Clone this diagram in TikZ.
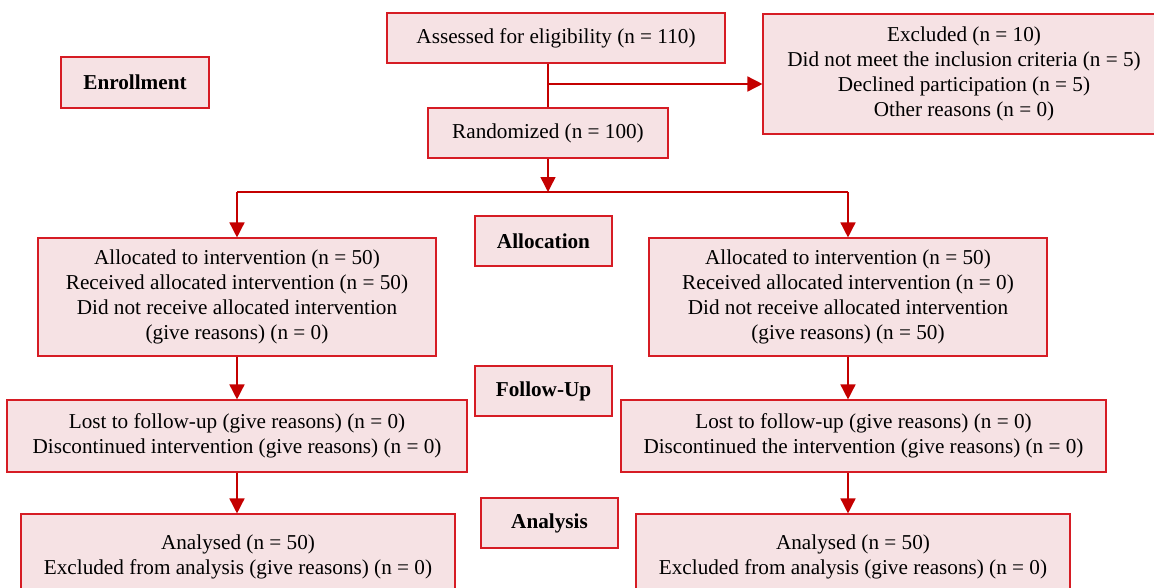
\documentclass[tikz,border=0pt]{standalone}
\usepackage{fontspec}
\setmainfont{Liberation Serif}
\usepackage{tikz}
\usetikzlibrary{arrows.meta}
\definecolor{boxfill}{RGB}{246,226,228}
\definecolor{boxline}{RGB}{214,28,36}
\definecolor{arrred}{RGB}{196,0,0}

\begin{document}
\begin{tikzpicture}[x=1pt, y=-1pt,
	every node/.style={font=\fontsize{21.2}{25}\selectfont},
	box/.style={draw=boxline, fill=boxfill, line width=1.1pt, align=center, inner sep=0pt},
	stage/.style={box, font=\fontsize{21.2}{25}\selectfont\bfseries, minimum width=137, minimum height=50},
	line/.style={draw=arrred, line width=1.5pt},
	arr/.style={line, -{Triangle[length=15,width=15]}}]
\useasboundingbox (0,0) rectangle (1154,587);

% stage labels
\node[stage, minimum width=148, minimum height=51] (enrol) at (135,82.5) {Enrollment};
\node[stage] (alloc) at (543.5,241) {Allocation};
\node[stage] (follow) at (543.5,391) {Follow-Up};
\node[stage] (analysis) at (549.5,523) {Analysis};

% top part
\node[box, minimum width=338, minimum height=50] (assessed) at (556,38) {Assessed for eligibility (n = 110)};
\node[box, minimum width=240, minimum height=50] (random) at (548,133) {Randomized (n = 100)};
\node[box, minimum width=402, minimum height=120] (excluded) at (964,74) {Excluded (n = 10)\\Did not meet the inclusion criteria (n = 5)\\Declined participation (n = 5)\\Other reasons (n = 0)};

% left arm
\node[box, minimum width=398, minimum height=118] (allocL) at (237,297) {Allocated to intervention (n = 50)\\Received allocated intervention (n = 50)\\Did not receive allocated intervention\\(give reasons) (n = 0)};
\node[box, minimum width=460, minimum height=72] (followL) at (237,436) {Lost to follow-up (give reasons) (n = 0)\\Discontinued intervention (give reasons) (n = 0)};
\node[box, minimum width=434, minimum height=86] (analysisL) at (238,557) {Analysed (n = 50)\\Excluded from analysis (give reasons) (n = 0)};

% right arm
\node[box, minimum width=398, minimum height=118] (allocR) at (848,297) {Allocated to intervention (n = 50)\\Received allocated intervention (n = 0)\\Did not receive allocated intervention\\(give reasons) (n = 50)};
\node[box, minimum width=485, minimum height=72] (followR) at (863.5,436) {Lost to follow-up (give reasons) (n = 0)\\Discontinued the intervention (give reasons) (n = 0)};
\node[box, minimum width=434, minimum height=86] (analysisR) at (853,557) {Analysed (n = 50)\\Excluded from analysis (give reasons) (n = 0)};

% connectors
\coordinate (branch) at (random.north |- 0,84);
\coordinate (split) at (random.south |- 0,192);
\coordinate (splitL) at (allocL.north |- split);
\coordinate (splitR) at (allocR.north |- split);
\draw[line] (random.north) -- (random.north |- assessed.south);
\draw[arr] (branch) -- (branch -| excluded.west);
\draw[arr] (random.south) -- (split);
\draw[line] (splitL) -- (splitR);
\draw[arr] (splitL) -- (allocL.north);
\draw[arr] (splitR) -- (allocR.north);
\draw[arr] (allocL.south) -- (allocL.south |- followL.north);
\draw[arr] (followL.south -| allocL.south) -- (allocL.south |- analysisL.north);
\draw[arr] (allocR.south) -- (allocR.south |- followR.north);
\draw[arr] (followR.south -| allocR.south) -- (allocR.south |- analysisR.north);
\end{tikzpicture}
\end{document}
